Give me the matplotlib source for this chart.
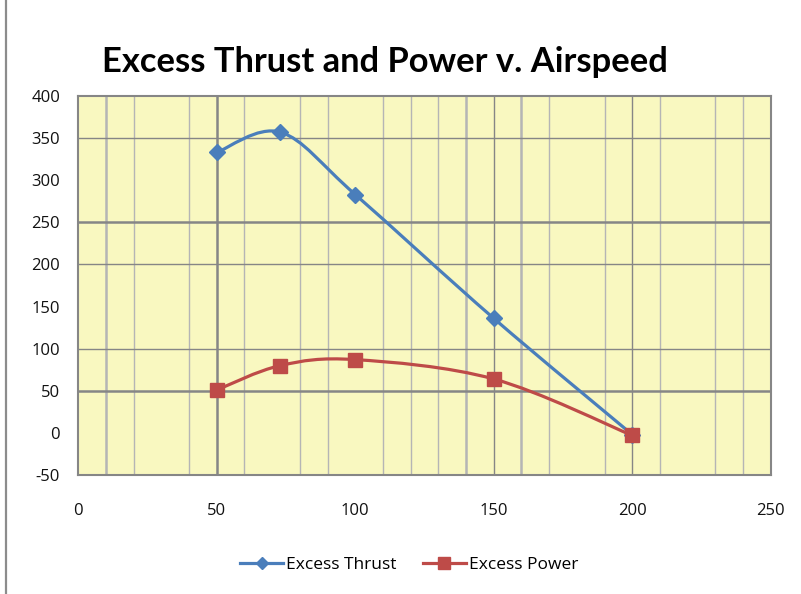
import numpy as np
import matplotlib.pyplot as plt
from matplotlib.path import Path
from matplotlib.patches import PathPatch
from matplotlib.lines import Line2D

plt.rcParams['axes.unicode_minus'] = False

# data
airspeed = [50, 73, 100, 150, 200]
excess_thrust = [333, 357, 283, 136, -2]
excess_power = [51, 80, 87, 64, -3]

x_ticks = [0, 50, 100, 150, 200, 250]
y_ticks = [-50, 0, 50, 100, 150, 200, 250, 300, 350, 400]

# gridlines that survive in the (downscaled) picture
v_light = [20, 40, 60, 80, 90, 110, 120, 130, 170, 190, 210, 230, 240]
v_light_thick = [10, 140, 160]
v_dark = [150, 200]
v_dark_thick = [50]
h_dark = [350, 200, 100]
h_dark_thick = [250, 50]

blue = '#4a7ebb'
red = '#be4b48'
dark = '#868686'
light = '#b5b5b5'


def smooth_path(x, y):
    # Excel style smoothed line: bezier segments through each point
    pts = np.column_stack([x, y]).astype(float)
    n = len(pts)
    verts = [pts[0]]
    codes = [Path.MOVETO]
    for i in range(n - 1):
        p0 = pts[max(i - 1, 0)]
        p1 = pts[i]
        p2 = pts[i + 1]
        p3 = pts[min(i + 2, n - 1)]
        verts += [p1 + (p2 - p0) / 6.0, p2 - (p3 - p1) / 6.0, p2]
        codes += [Path.CURVE4] * 3
    return Path(verts, codes)


fig = plt.figure(figsize=(8.01, 5.94), dpi=100)
ax = fig.add_axes([78.3 / 801, 1 - 475 / 594, (770.7 - 78.3) / 801, (475 - 96) / 594])
ax.set_facecolor('#f9f8c0')

for v in v_light:
    ax.axvline(v, color=light, lw=1.0, zorder=1)
for v in v_light_thick:
    ax.axvline(v, color=light, lw=1.8, zorder=1)
for v in v_dark:
    ax.axvline(v, color=dark, lw=1.0, zorder=1)
for v in v_dark_thick:
    ax.axvline(v, color=dark, lw=1.8, zorder=1)
for h in h_dark:
    ax.axhline(h, color=dark, lw=1.0, zorder=1)
for h in h_dark_thick:
    ax.axhline(h, color=dark, lw=1.8, zorder=1)

ax.add_patch(PathPatch(smooth_path(airspeed, excess_thrust), fill=False,
                       edgecolor=blue, lw=2.3, zorder=3, capstyle='round'))
ax.plot(airspeed, excess_thrust, linestyle='none', marker='D', ms=8.5,
        color=blue, zorder=4)
ax.add_patch(PathPatch(smooth_path(airspeed, excess_power), fill=False,
                       edgecolor=red, lw=2.3, zorder=3, capstyle='round'))
ax.plot(airspeed, excess_power, linestyle='none', marker='s', ms=10.5,
        color=red, zorder=5)

ax.set_xlim(0, 250)
ax.set_ylim(-50, 400)
ax.set_xticks(x_ticks)
ax.set_yticks(y_ticks)
ax.tick_params(axis='x', length=0, pad=20, labelsize=12, labelcolor='#111111')
ax.tick_params(axis='y', length=0, pad=13, labelsize=12, labelcolor='#111111')
for lab in ax.get_xticklabels() + ax.get_yticklabels():
    lab.set_family('Open Sans')
for s in ax.spines.values():
    s.set_color(dark)
    s.set_linewidth(1.5)

title = fig.text(385 / 801, 1 - 62 / 594, 'Excess Thrust and Power v. Airspeed',
                 ha='center', va='center', fontsize=26, fontweight='bold',
                 family='Lato')
# squeeze the size so the title spans about the same width as in the original
fig.canvas.draw()
w = title.get_window_extent().width
title.set_fontsize(26 * 565 / w)

# left border of the chart area
fig.add_artist(Line2D([6 / 801, 6 / 801], [0, 1], color='#8c8c8c', lw=1.6))

handles = [
    Line2D([], [], color=blue, lw=2.3, marker='D', ms=6),
    Line2D([], [], color=red, lw=2.3, marker='s', ms=8.5),
]
fig.legend(handles, ['Excess Thrust', 'Excess Power'], loc='center',
           bbox_to_anchor=(409 / 801, 1 - 565 / 594), ncol=2, frameon=False,
           handlelength=2.5, handletextpad=0.15, columnspacing=1.5,
           prop={'family': 'Open Sans', 'size': 12.5})

fig.savefig('out.png', dpi=100)
